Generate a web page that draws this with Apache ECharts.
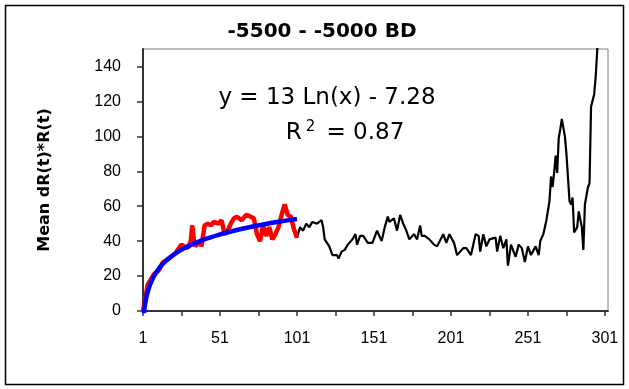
<!DOCTYPE html>
<html>
<head>
<meta charset="utf-8">
<script src="https://cdn.jsdelivr.net/npm/echarts@6/dist/echarts.min.js"></script>
<style>
html,body{margin:0;padding:0;background:#fff;}
#chart{width:629px;height:389px;}
</style>
</head>
<body>
<div id="chart"></div>
<script>
// ---- data ----
var titleText = '-5500 - -5000 BD';
var yAxisName = 'Mean dR(t)*R(t)';
var xTickLabels = [1, 51, 101, 151, 201, 251, 301];
var xTickMarks = [1, 26, 51, 76, 101, 126, 151, 176, 201, 226, 251, 276, 301];
var yTickLabels = [0, 20, 40, 60, 80, 100, 120, 140];

// time index (t) and mean dR(t)*R(t) values
var meanT = [1,2,4,6,8,11,14,16,19,22,23,26,28,30,32,33,34,35,36,38,39,41,43,45,47,48,50,52,54,56,58,60,62,63,65,66,68,69,71,72,73,75,77,79,81,83,85,87,89,91,93,94,95,97,99,101,
  103,105,107,109,111,114,117,118,119,122,124,127,128,130,132,134,137,139,140,142,144,147,150,153,154,156,158,160,161,164,166,168,170,172,174,177,179,181,182,184,187,190,192,196,198,200,203,205,209,211,214,217,219,220,222,224,226,230,231,233,235,237,238,240,243,245,247,249,251,253,256,258,259,261,263,265,266,267,268,269,270,271,272,273,274,275,276,278,279,280,281,283,284,285,286,287,288,290,291,292,294,295,296,297];
var meanValues = [0,5,15,18,21,23,28,29,31,33,33,38,37,36,40,49,41,37,38,40,37,49,50,49,51,50,50,52,44,46,50,53,54,55,52,52,55,56,54,55,53,44,40,49,43,48,41,44,48,55,61,60,55,54,47,42,
  48,46,50,48,51,50,52,48,41,37,32,32,30,34,35,38,41,44,38,43,43,39,39,46,44,40,48,54,51,53,46,55,50,46,41,44,41,49,43,43,41,38,37,44,39,44,39,32,36,36,32,44,43,34,44,37,41,42,34,43,36,41,26,38,31,38,36,28,37,32,37,32,40,44,52,63,77,71,79,89,79,99,104,110,111,100,90,63,61,65,45,48,57,56,48,35,61,71,73,117,124,134,149,165];
var redLastT = 101;

// plotted trendline y = 13 Ln(x) - 7.28, read at these t
var fitT = [1,2,3,4,5,6,8,10,12,15,20,25,30,40,50,60,70,80,90,101];
var fitValues = [-7.28,1.73,7.00,10.74,13.64,16.01,19.75,22.65,25.02,27.92,31.66,34.56,36.93,40.67,43.57,45.94,47.95,49.69,51.22,52.72];

var eqLine1 = 'y = 13 Ln(x) - 7.28';
var eqR2 = '0.87';

// ---- build ----
var FONT = '"Liberation Sans", Arial, sans-serif';
var WIDE = '"DejaVu Sans", "Liberation Sans", sans-serif';
function pairs(xs, ys){ var out=[]; for (var i=0;i<xs.length;i++) out.push([xs[i], ys[i]]); return out; }
var allPairs = pairs(meanT, meanValues);
var redPairs = allPairs.filter(function(p){ return p[0] <= redLastT; });

var chart = echarts.init(document.getElementById('chart'), null, {renderer:'canvas'});
chart.setOption({
  animation: false,
  backgroundColor: '#fff',
  grid: {left:143, right:21, top:49, bottom:78, show:true, borderColor:'#808080', borderWidth:1, backgroundColor:'#fff'},
  xAxis: {
    type: 'value', min: 1, max: 303,
    axisLine: {show:true, onZero:false, lineStyle:{color:'#333', width:2}},
    axisTick: {show:true, length:5, lineStyle:{color:'#333', width:1.5}, customValues: xTickMarks},
    axisLabel: {customValues: xTickLabels, color:'#000', fontFamily: FONT, fontSize: 16, margin: 20},
    splitLine: {show:false}
  },
  yAxis: {
    type: 'value', min: 0, max: 150,
    name: yAxisName, nameLocation: 'middle', nameGap: 90,
    nameTextStyle: {fontFamily: WIDE, fontWeight:'bold', fontSize:16, color:'#000'},
    axisLine: {show:true, onZero:false, lineStyle:{color:'#333', width:2}},
    axisTick: {show:true, length:6, lineStyle:{color:'#333', width:1.5}, customValues: yTickLabels},
    axisLabel: {customValues: yTickLabels, color:'#000', fontFamily: FONT, fontSize: 16, margin: 22},
    splitLine: {show:false}
  },
  series: [
    {type:'line', data: allPairs, symbol:'none', lineStyle:{color:'#000', width:2.2}, z:2, clip:true},
    {type:'line', data: redPairs, symbol:'none', lineStyle:{color:'#ff0000', width:4.5}, z:3, clip:true},
    {type:'line', data: pairs(fitT, fitValues), symbol:'none', smooth:0.3, lineStyle:{color:'#0000ff', width:4.5}, z:4, clip:true}
  ],
  graphic: [
    {type:'rect', shape:{x:5.5, y:5.5, width:618, height:379}, style:{fill:'none', stroke:'#000', lineWidth:1.5}, z:-1, silent:true},
    {type:'text', x:322, y:32, style:{text:titleText, font:'bold 20px ' + WIDE, fill:'#000', textAlign:'center', textVerticalAlign:'middle'}, z:10},
    {type:'text', x:327, y:98, style:{text:eqLine1, font:'23px ' + WIDE, fill:'#000', textAlign:'center', textVerticalAlign:'middle'}, z:10},
    {type:'text', x:345, y:132, style:{
      text:'{r|R}{s|2}{r| = ' + eqR2 + '}',
      textAlign:'center', textVerticalAlign:'middle',
      rich:{ r:{font:'23px ' + WIDE, fill:'#000', verticalAlign:'bottom'}, s:{font:'15px ' + WIDE, fill:'#000', verticalAlign:'top', padding:[0,4,10,4]} }
    }, z:10}
  ]
});
</script>
</body>
</html>
